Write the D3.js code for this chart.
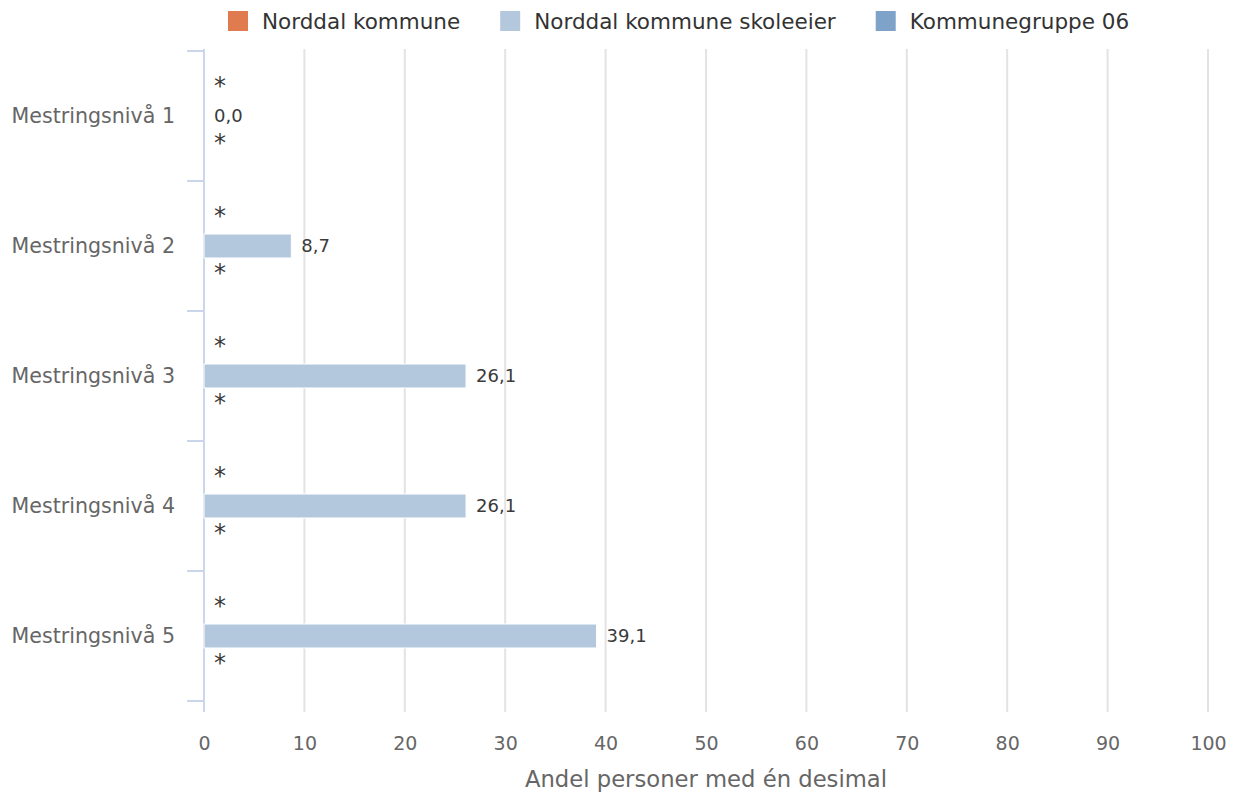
<!DOCTYPE html>
<html>
<head>
<meta charset="utf-8">
<script src="https://cdn.jsdelivr.net/npm/d3@7"></script>
<style>
    body { margin: 0; background: #fff; }
    svg { display: block; font-family: "DejaVu Sans", Verdana, sans-serif; }
</style>
</head>
<body>
<svg id="chart" width="1238" height="793"></svg>
<script>
// data
var categories = ['Mestringsnivå 1', 'Mestringsnivå 2', 'Mestringsnivå 3', 'Mestringsnivå 4', 'Mestringsnivå 5'];
var seriesNames = ['Norddal kommune', 'Norddal kommune skoleeier', 'Kommunegruppe 06'];
var seriesColors = ['#e07b4f', '#b3c8dd', '#7fa3c8'];
var norddalKommune = [null, null, null, null, null];
var norddalSkoleeier = [0.0, 8.7, 26.1, 26.1, 39.1];
var kommunegruppe06 = [null, null, null, null, null];
var xTicks = [0, 10, 20, 30, 40, 50, 60, 70, 80, 90, 100];
var xTitle = 'Andel personer med én desimal';

var seriesValues = [norddalKommune, norddalSkoleeier, kommunegruppe06];

var svg = d3.select('#chart');
var plot = { left: 204, right: 1208, top: 49, bottom: 712 };

var x = d3.scaleLinear().domain([0, 100]).range([plot.left, plot.right]);
var y = d3.scaleBand().domain(categories).range([51, 701]);
var ySeries = d3.scaleBand().domain(seriesNames)
    .range([y.bandwidth() * 0.171, y.bandwidth() * 0.829])
    .paddingInner(0.16).paddingOuter(0.08);

function fmt(v) {
    return v.toFixed(1).replace('.', ',');
}

// grid lines
svg.append('g')
    .selectAll('line')
    .data(xTicks)
    .enter()
    .append('line')
    .attr('x1', function (d) { return x(d); })
    .attr('x2', function (d) { return x(d); })
    .attr('y1', plot.top)
    .attr('y2', plot.bottom)
    .attr('stroke', function (d) { return d === 0 ? 'none' : '#e3e3e3'; })
    .attr('stroke-width', 2);

// x axis labels
var xAxis = d3.axisBottom(x).tickValues(xTicks).tickSize(0).tickPadding(0);
var gx = svg.append('g')
    .attr('transform', 'translate(0,' + plot.bottom + ')')
    .call(xAxis);
gx.select('.domain').remove();
gx.selectAll('text')
    .attr('y', 31)
    .attr('dy', '0.35em')
    .attr('fill', '#666')
    .style('font-size', '19px')
    .style('font-family', '"DejaVu Sans", sans-serif');

svg.append('text')
    .attr('x', (plot.left + plot.right) / 2)
    .attr('y', 779)
    .attr('dy', '0.35em')
    .attr('text-anchor', 'middle')
    .attr('fill', '#666')
    .style('font-size', '22.7px')
    .text(xTitle);

// y axis: line, tick marks between categories, labels
var tickYs = categories.map(function (c) { return y(c); }).concat([y(categories[categories.length - 1]) + y.bandwidth()]);
svg.append('line')
    .attr('x1', plot.left).attr('x2', plot.left)
    .attr('y1', plot.top).attr('y2', plot.bottom)
    .attr('stroke', '#ccd6eb').attr('stroke-width', 2);
svg.append('g')
    .selectAll('line')
    .data(tickYs)
    .enter()
    .append('line')
    .attr('x1', plot.left - 17).attr('x2', plot.left)
    .attr('y1', function (d) { return d; })
    .attr('y2', function (d) { return d; })
    .attr('stroke', '#ccd6eb').attr('stroke-width', 2);
svg.append('g')
    .selectAll('text')
    .data(categories)
    .enter()
    .append('text')
    .attr('x', 175)
    .attr('y', function (d) { return y(d) + y.bandwidth() / 2; })
    .attr('dy', '0.35em')
    .attr('text-anchor', 'end')
    .attr('fill', '#666')
    .style('font-size', '20.6px')
    .text(function (d) { return d; });

// bars and data labels
var points = [];
seriesValues.forEach(function (vals, s) {
    vals.forEach(function (v, i) {
        points.push({ series: seriesNames[s], color: seriesColors[s], cat: categories[i], value: v });
    });
});

var barG = svg.append('g');
barG.selectAll('rect')
    .data(points.filter(function (p) { return p.value !== null; }))
    .enter()
    .append('rect')
    .attr('x', x(0))
    .attr('y', function (p) { return y(p.cat) + ySeries(p.series); })
    .attr('width', function (p) { return x(p.value) - x(0); })
    .attr('height', ySeries.bandwidth())
    .attr('fill', function (p) { return p.color; })
    .attr('stroke', '#fff')
    .attr('stroke-width', 1);

// missing values get a "*" label
barG.selectAll('text')
    .data(points)
    .enter()
    .append('text')
    .attr('x', function (p) { return x(p.value === null ? 0 : p.value) + 10; })
    .attr('y', function (p) { return y(p.cat) + ySeries(p.series) + ySeries.bandwidth() / 2; })
    .attr('dy', function (p) { return p.value === null ? '0.28em' : '0.35em'; })
    .attr('fill', '#3a3a3a')
    .style('font-size', function (p) { return p.value === null ? '24px' : '18px'; })
    .text(function (p) { return p.value === null ? '*' : fmt(p.value); });

// legend
var legend = svg.append('g').attr('transform', 'translate(228,11)');
var lx = 0;
seriesNames.forEach(function (name, i) {
    var item = legend.append('g').attr('transform', 'translate(' + lx + ',0)');
    item.append('rect')
        .attr('width', 20).attr('height', 20)
        .attr('fill', seriesColors[i]);
    var t = item.append('text')
        .attr('x', 34).attr('y', 10)
        .attr('dy', '0.35em')
        .attr('fill', '#333')
        .style('font-size', '21.5px')
        .text(name);
    lx += 34 + t.node().getComputedTextLength() + 40;
});
</script>
</body>
</html>
